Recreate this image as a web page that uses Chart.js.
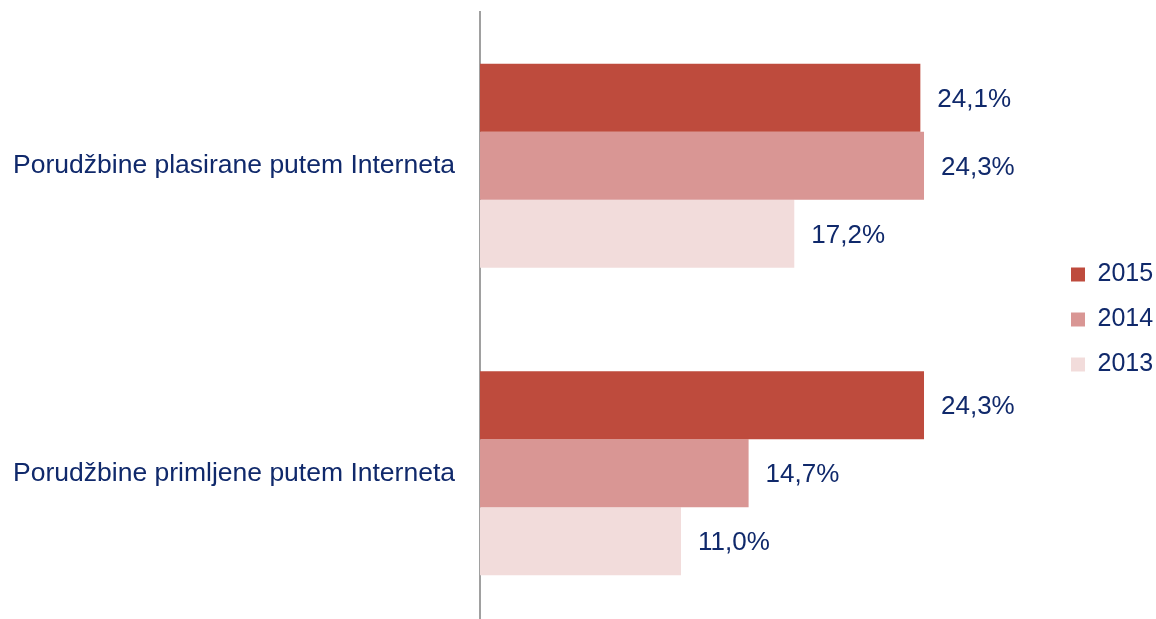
<!doctype html>
<html lang="sr">
  <head>
    <meta charset="UTF-8" />
    <title>Porudžbine putem Interneta</title>
    <script src="https://cdn.jsdelivr.net/npm/chart.js"></script>
    <style>
      html, body { margin: 0; padding: 0; overflow: hidden; background: #fff; }
      #wrap { width: 1156px; height: 640px; }
    </style>
  </head>
  <body>
    <div id="wrap"><canvas id="myChart"></canvas></div>
    <script>
      const categories = ['Porudžbine plasirane putem Interneta', 'Porudžbine primljene putem Interneta']
      const years = ['2015', '2014', '2013']
      const values2015 = [24.1, 24.3]
      const values2014 = [24.3, 14.7]
      const values2013 = [17.2, 11.0]

      const navy = '#10296B'
      const fontFamily = '"Liberation Sans", Arial, sans-serif'

      // value labels to the right of each bar, "24,1%"
      const valueLabels = {
        id: 'valueLabels',
        afterDatasetsDraw(chart) {
          const ctx = chart.ctx
          ctx.save()
          ctx.font = '26px ' + fontFamily
          ctx.fillStyle = navy
          ctx.textAlign = 'left'
          ctx.textBaseline = 'middle'
          chart.data.datasets.forEach((ds, i) => {
            chart.getDatasetMeta(i).data.forEach((bar, j) => {
              const txt = ds.data[j].toFixed(1).replace('.', ',') + '%'
              ctx.fillText(txt, bar.x + 17, bar.y + 2)
            })
          })
          ctx.restore()
        }
      }

      const ctx = document.getElementById('myChart').getContext('2d')

      new Chart(ctx, {
        type: 'bar',
        data: {
          labels: categories,
          datasets: [
            { label: years[0], data: values2015, backgroundColor: '#BE4B3D' },
            { label: years[1], data: values2014, backgroundColor: '#D99694' },
            { label: years[2], data: values2013, backgroundColor: '#F2DCDB' }
          ]
        },
        options: {
          indexAxis: 'y',
          responsive: true,
          maintainAspectRatio: false,
          animation: false,
          layout: { padding: { left: 10, top: 12, bottom: 13, right: 0 } },
          datasets: {
            bar: { categoryPercentage: 0.664, barPercentage: 1, borderWidth: 0 }
          },
          plugins: {
            tooltip: { enabled: false },
            legend: {
              position: 'right',
              maxWidth: 105,
              labels: {
                boxWidth: 14,
                boxHeight: 14,
                padding: 20,
                color: navy,
                font: { family: fontFamily, size: 25 }
              }
            }
          },
          scales: {
            x: {
              display: false,
              min: 0,
              max: 31.25
            },
            y: {
              grid: { display: false, drawTicks: false },
              border: { display: true, color: '#A0A0A0', width: 2 },
              ticks: {
                padding: 25,
                color: navy,
                font: { family: fontFamily, size: 26.5 }
              },
              afterFit(scale) {
                // fixed label column, no extra top/bottom padding from the tick labels
                scale.width = 470
                scale.paddingTop = 0
                scale.paddingBottom = 0
              }
            }
          }
        },
        plugins: [valueLabels]
      })
    </script>
  </body>
</html>
